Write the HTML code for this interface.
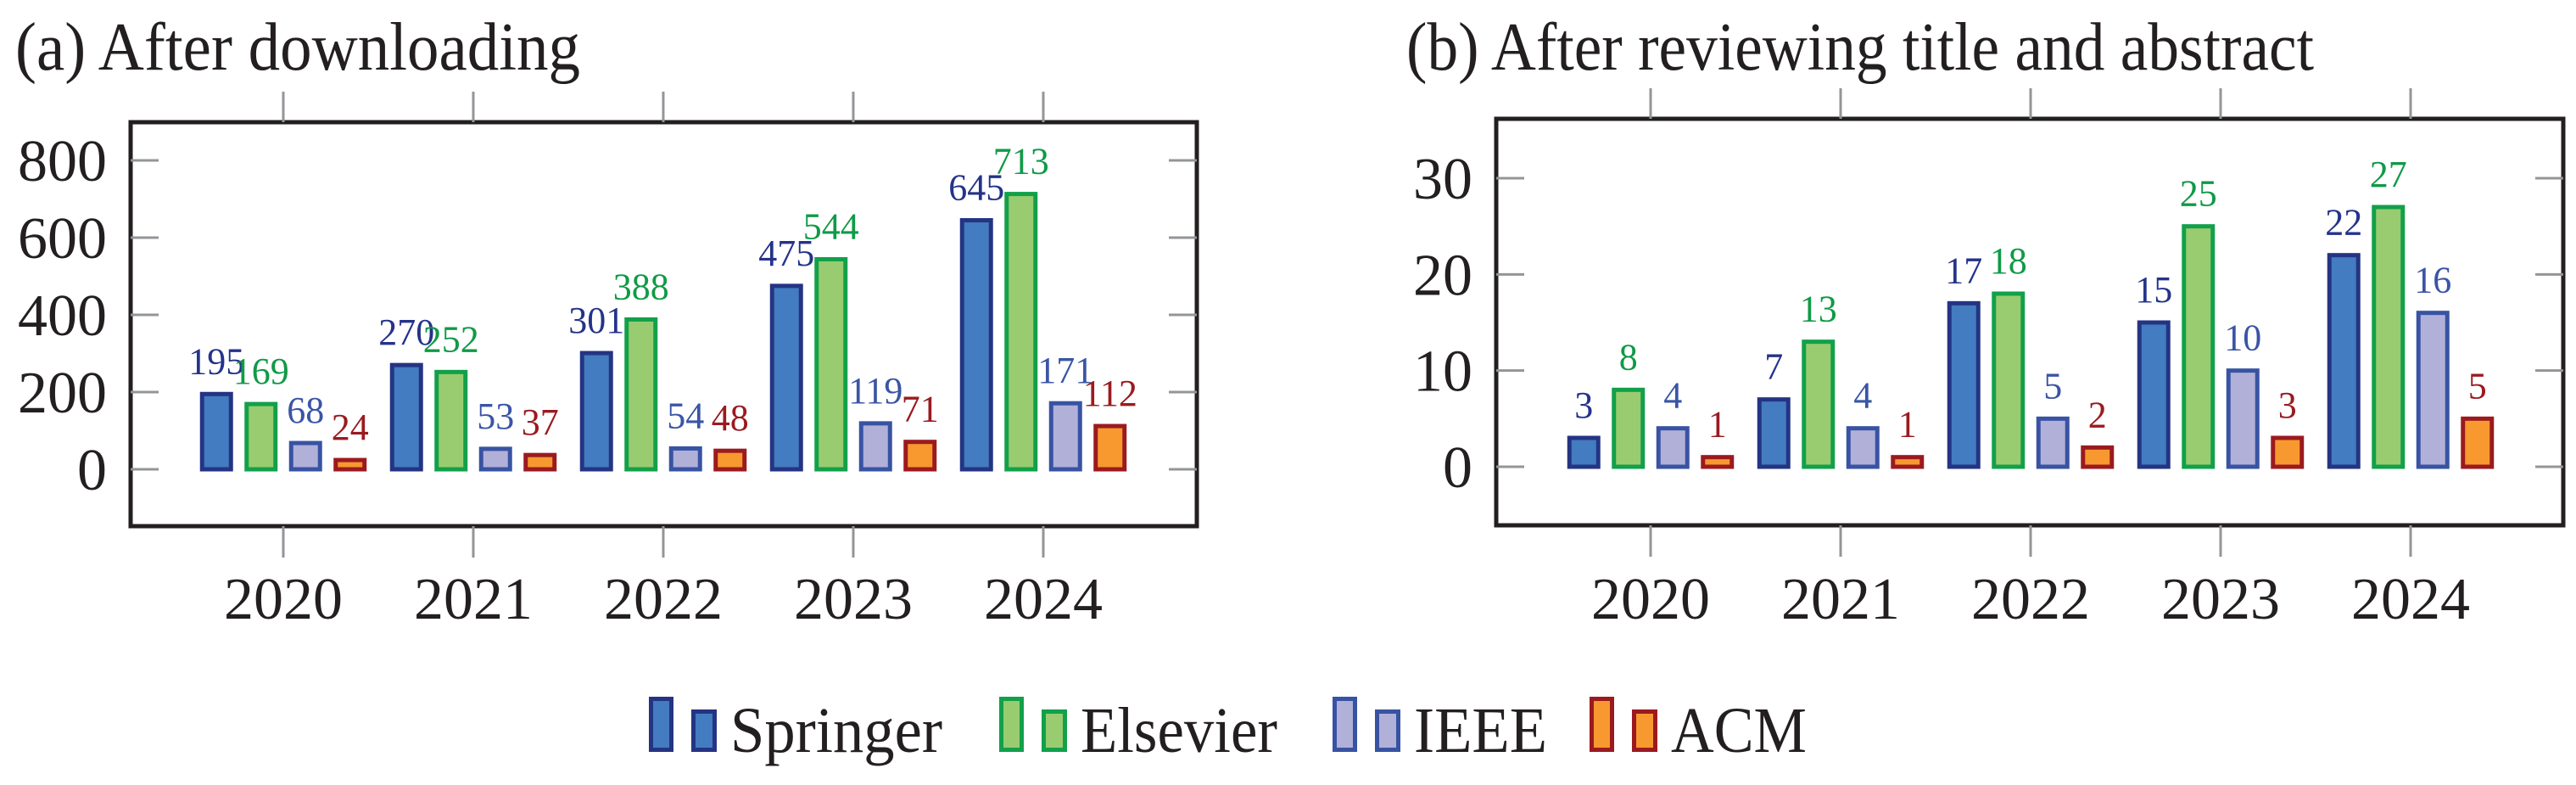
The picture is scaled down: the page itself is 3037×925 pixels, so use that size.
<!DOCTYPE html>
<html><head><meta charset="utf-8">
<style>
html,body{margin:0;padding:0;background:#fff;}
svg{display:block;font-family:"Liberation Serif",serif;}
</style></head>
<body>
<svg id="chart" width="3037" height="925" viewBox="0 0 3037 925" xmlns="http://www.w3.org/2000/svg">
<text x="18" y="82" font-size="80" textLength="666" lengthAdjust="spacingAndGlyphs" fill="#231f20">(a) After downloading</text>
<text x="1658" y="82" font-size="80" textLength="1070" lengthAdjust="spacingAndGlyphs" fill="#231f20">(b) After reviewing title and abstract</text>
<g id="legend"></g>
</svg>
<script>
const categories = ["2020","2021","2022","2023","2024"];
const seriesNames = ["Springer","Elsevier","IEEE","ACM"];
const downloadSpringer = [195,270,301,475,645];
const downloadElsevier = [169,252,388,544,713];
const downloadIEEE = [68,53,54,119,171];
const downloadACM = [24,37,48,71,112];
const reviewSpringer = [3,7,17,15,22];
const reviewElsevier = [8,13,18,25,27];
const reviewIEEE = [4,4,5,10,16];
const reviewACM = [1,1,2,3,5];
const ticksA = [0,200,400,600,800];
const ticksB = [0,10,20,30];

const fills = ["#437cc0","#99cc70","#b1b0d8","#f7992f"];
const strokes = ["#243483","#12a04a","#3853a3","#9b1a1f"];
const labelColors = ["#24338a","#109a47","#3a55a5","#9a1b20"];
const NS = "http://www.w3.org/2000/svg";
const svg = document.getElementById('chart');
function mk(tag, attrs, parent){const e=document.createElementNS(NS,tag);for(const k in attrs)e.setAttribute(k,attrs[k]);(parent||svg).appendChild(e);return e;}

function drawPanel(p){
  const g = mk('g',{});
  
  
  const y = v => p.y0 - (v - 0) * p.ppu;
  const x = i => p.cx0 + i * 224;
  const fr = mk('rect',{x:p.left,y:p.top,width:p.right-p.left,height:p.bottom-p.top,fill:'none',stroke:'#231f20','stroke-width':5},g);
  
  
  p.ticks.forEach(t=>{
    const yy=y(t);
    mk('line',{x1:p.left,x2:p.left+33,y1:yy,y2:yy,stroke:'#939598','stroke-width':3},g);
    mk('line',{x1:p.right-33,x2:p.right,y1:yy,y2:yy,stroke:'#939598','stroke-width':3},g);
    const tl = mk('text',{x:p.left-28,y:yy+24,'font-size':70,'text-anchor':'end',fill:'#231f20'},g);
    tl.textContent=t;
    
    
  });
  categories.forEach((c,i)=>{
    const xx=x(i);
    mk('line',{x1:xx,x2:xx,y1:p.top-36,y2:p.top,stroke:'#939598','stroke-width':3},g);
    mk('line',{x1:xx,x2:xx,y1:p.bottom,y2:p.bottom+37,stroke:'#939598','stroke-width':3},g);
    const tl = mk('text',{x:xx,y:729,'font-size':70,'text-anchor':'middle',fill:'#231f20'},g);
    tl.textContent=c;
    
    
  });
  const offs=[-78.75,-26.25,26.25,78.75];
  p.series.forEach((vals,s)=>{
    vals.forEach((v,i)=>{
      const cx=x(i)+offs[s], top=y(v), base=y(0);
      const r = mk('rect',{x:cx-17,y:top,width:34,height:Math.max(base-top,0.1),fill:fills[s],stroke:strokes[s],'stroke-width':5},g);
      
      
      const lt = mk('text',{x:cx,y:top-24,'font-size':44,'text-anchor':'middle',fill:labelColors[s]},g);
      lt.textContent=v;
      
      
    });
  });
}
drawPanel({name:'panel-after-downloading',left:154,right:1411,top:144,bottom:620,y0:553,ppu:364/800,cx0:334,ticks:ticksA,
  series:[downloadSpringer,downloadElsevier,downloadIEEE,downloadACM]});
drawPanel({name:'panel-after-review',left:1764,right:3022,top:140,bottom:619,y0:550,ppu:340/30,cx0:1946,ticks:ticksB,
  series:[reviewSpringer,reviewElsevier,reviewIEEE,reviewACM]});

const lg=document.getElementById('legend');
const lx=[765,1178,1571,1874];
const lw=[250,232,157,160];
seriesNames.forEach((n,s)=>{
  const e = mk('g',{},lg);
  
  
  mk('rect',{x:lx[s]+2.5,y:823.5,width:24,height:60,fill:fills[s],stroke:strokes[s],'stroke-width':5},e);
  mk('rect',{x:lx[s]+52.5,y:838.5,width:25,height:45,fill:fills[s],stroke:strokes[s],'stroke-width':5},e);
  const t=mk('text',{x:lx[s]+96,y:886,'font-size':76,textLength:lw[s],lengthAdjust:'spacingAndGlyphs',fill:'#231f20'},e);
  t.textContent=n;
});
</script>
</body></html>
